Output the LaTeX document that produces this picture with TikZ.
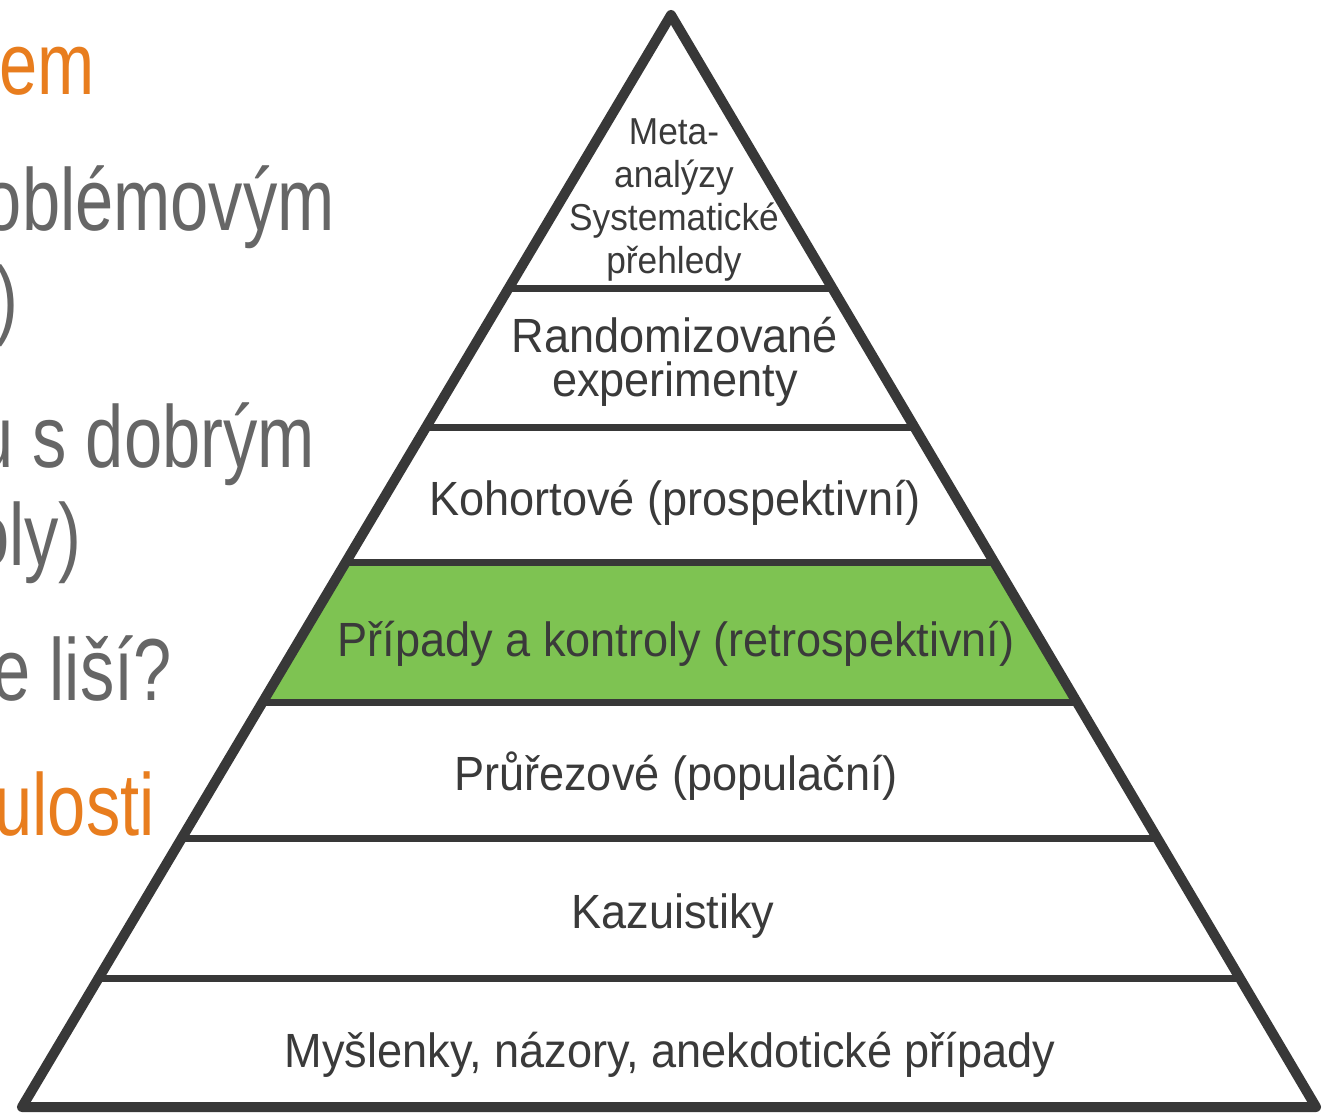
\documentclass[tikz,border=0pt]{standalone}
\usepackage{fontspec}
\setmainfont{Liberation Sans}[FakeStretch=0.94]
\newfontfamily\condfont{Liberation Sans}[FakeStretch=0.78]
\usetikzlibrary{calc}
\definecolor{edge}{RGB}{56,56,56}
\definecolor{labeltext}{RGB}{58,58,58}
\definecolor{leafgreen}{RGB}{126,195,82}
\definecolor{slidegray}{RGB}{102,102,102}
\definecolor{slideorange}{RGB}{232,125,30}
\tikzset{
  side/.style={draw=edge, line width=10pt, line join=round},
  divider/.style={draw=edge, line width=7pt},
  tier/.style={text=labeltext, font=\fontsize{48}{44}\selectfont, align=center, inner sep=0pt},
  toptier/.style={text=labeltext, font=\fontsize{37.5}{43}\selectfont, align=center, inner sep=0pt},
  bg/.style={font=\condfont\fontsize{88}{88}\selectfont, anchor=base east, inner sep=0pt},
}
\begin{document}
\begin{tikzpicture}[x=1pt, y=-1pt]
\useasboundingbox (0,0) rectangle (1323,1115);
\clip (0,0) rectangle (1323,1115);
\fill[white] (0,0) rectangle (1323,1115);

% slide text behind the pyramid (cut at the left edge)
\node[bg, text=slideorange] (t1) at (95,95) {em};
\node[bg, text=slidegray] (t2) at (335,231) {oblémovým};
\node[bg, text=slidegray] (t3) at (19,329) {)};
\node[bg, text=slidegray] (t4) at (315,467) {u s dobrým};
\node[bg, text=slidegray] (t5) at (82,565) {oly)};
\node[bg, text=slidegray] (t6) at (172,700) {e liší?};
\node[bg, text=slideorange] (t7) at (155,835) {ulosti};

% pyramid corners
\coordinate (A) at (671,15);
\coordinate (L) at (22,1107);
\coordinate (R) at (1316,1107);

% highlighted tier
\fill[leafgreen] ($(A)!0.5018!(L)$) -- ($(A)!0.5018!(R)$) -- ($(A)!0.6300!(R)$) -- ($(A)!0.6300!(L)$) -- cycle;

% tier dividers
\foreach \t in {0.2509,0.3782,0.5018,0.6300,0.7537,0.8819}
  \draw[divider] ($(A)!\t!(L)$) -- ($(A)!\t!(R)$);

% outline
\draw[side] (A) -- (L) -- (R) -- cycle;

% tier labels
\node[toptier] (meta) at (674,200) {Meta-\\analýzy\\Systematické\\přehledy};
\node[tier] (rct) at (675,362) {Randomizované\\experimenty};
\node[tier] (coh) at (675,503) {Kohortové (prospektivní)};
\node[tier] (cc) at (676,644) {Případy a kontroly (retrospektivní)};
\node[tier] (cs) at (676,776) {Průřezové (populační)};
\node[tier] (kaz) at (673,916) {Kazuistiky};
\node[tier] (ide) at (670,1055) {Myšlenky, názory, anekdotické případy};
\end{tikzpicture}
\end{document}
